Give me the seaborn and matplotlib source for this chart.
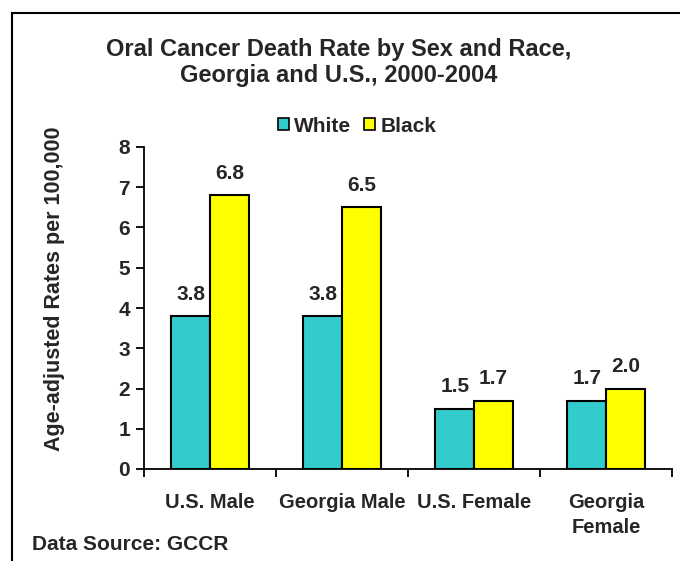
import matplotlib
matplotlib.use('Agg')
import matplotlib.pyplot as plt
from matplotlib.patches import Rectangle, Patch
import numpy as np
import pandas as pd
import seaborn as sns

# values
groups = ["U.S. Male", "Georgia Male", "U.S. Female", "Georgia\nFemale"]
white_rates = [3.8, 3.8, 1.5, 1.7]
black_rates = [6.8, 6.5, 1.7, 2.0]
races = ["White", "Black"]
colors = ["#33CCCC", "#FFFF00"]

df = pd.DataFrame({
    "group": groups * 2,
    "rate": white_rates + black_rates,
    "race": ["White"] * len(groups) + ["Black"] * len(groups),
})

sns.set_style("white")
plt.rcParams['font.family'] = ['Liberation Sans', 'DejaVu Sans']
plt.rcParams['font.weight'] = 'bold'

fs = 15

fig = plt.figure(figsize=(6.8, 5.61), dpi=100)
ax = fig.add_axes([144 / 680, 92 / 561, 528 / 680, 322 / 561])

sns.barplot(data=df, x="group", y="rate", hue="race", hue_order=races,
            palette=colors, width=0.585, gap=0, edgecolor="black",
            linewidth=1.5, saturation=1, ax=ax, legend=False)

# value labels above bars
for cont in ax.containers:
    ax.bar_label(cont, fmt="%.1f", padding=9, fontsize=fs, fontweight="bold")

ax.set_ylim(0, 8)
ax.set_xlim(-0.5, len(groups) - 0.5)
ax.set_yticks(range(0, 9))
ax.set_xlabel("")
ax.set_ylabel("")
ax.tick_params(axis="y", which="major", direction="out", length=6, width=1.3,
               color="black", labelsize=fs, pad=4, left=True)
ax.tick_params(axis="x", which="major", length=0, labelsize=14.5, pad=17)
ax.set_xticks(np.arange(-0.5, len(groups)), minor=True)
ax.tick_params(axis="x", which="minor", direction="out", length=6, width=1.3,
               color="black", bottom=True)
for lab in ax.get_xticklabels() + ax.get_yticklabels():
    lab.set_fontweight("bold")
    lab.set_linespacing(1.4)

for s in ["top", "right"]:
    ax.spines[s].set_visible(False)
for s in ["left", "bottom"]:
    ax.spines[s].set_color("black")
    ax.spines[s].set_linewidth(1.3)

# legend at top
handles = [Patch(facecolor=c, edgecolor="black", linewidth=1.2) for c in colors]
fig.legend(handles, races, loc="center", bbox_to_anchor=(357 / 680, 1 - 126 / 561),
           ncol=2, frameon=False, handlelength=0.55, handleheight=0.55,
           handletextpad=0.25, columnspacing=0.6, prop={"weight": "bold", "size": fs})

fig.text(339 / 680, 1 - 62.5 / 561,
         "Oral Cancer Death Rate by Sex and Race,\nGeorgia and U.S., 2000-2004",
         ha="center", va="center", fontsize=17, fontweight="bold", linespacing=1.2)
fig.text(55 / 680, 1 - 289 / 561, "Age-adjusted Rates per 100,000",
         rotation=90, ha="center", va="center", fontsize=15.5, fontweight="bold")
fig.text(32 / 680, 1 - 545 / 561, "Data Source: GCCR",
         ha="left", va="center", fontsize=fs, fontweight="bold")

# outer chart frame
fig.patches.append(Rectangle((12 / 680, -0.1), 1.2, 1 - 13 / 561 + 0.1,
                             transform=fig.transFigure, fill=False,
                             edgecolor="black", linewidth=1.5))

fig.savefig("out.png", dpi=100)
